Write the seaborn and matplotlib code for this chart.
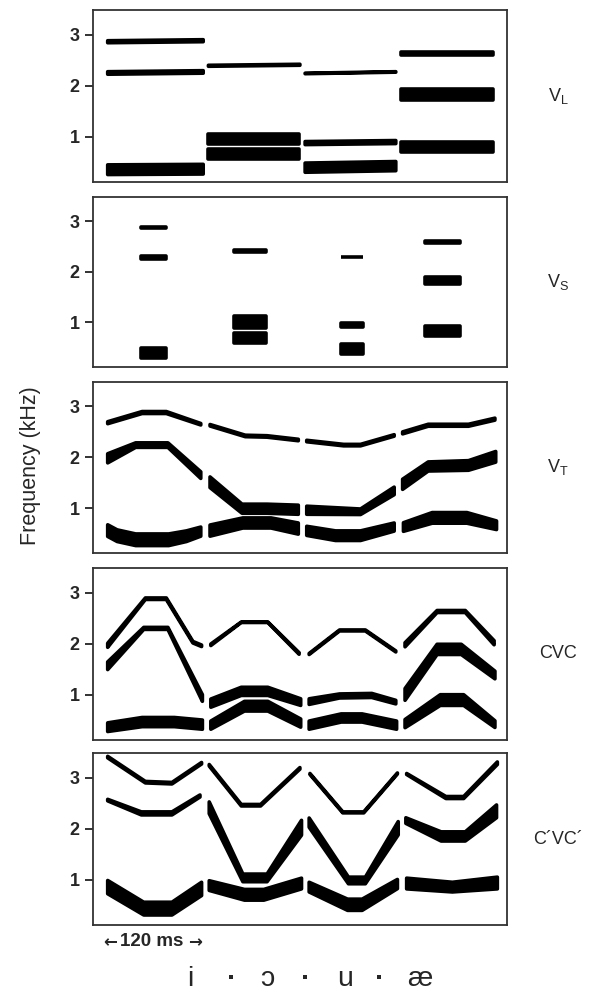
import numpy as np
import pandas as pd
import matplotlib
matplotlib.use("Agg")
import matplotlib.pyplot as plt
import seaborn as sns

# formant tracks: (times in ms, centre in kHz, band width in kHz), one per vowel i, ɔ, u, æ
VOWELS = ["i", "ɔ", "u", "æ"]
PANEL_LABELS = ["V$_\\mathregular{L}$", "V$_\\mathregular{S}$", "V$_\\mathregular{T}$", "CVC", "C\u00b4VC\u00b4"]

# long vowels
VL_F1 = [([0, 123], [0.37, 0.38], [0.26, 0.26]),
         ([125, 243], [0.66, 0.66], [0.27, 0.27]),
         ([245, 362], [0.41, 0.44], [0.25, 0.25]),
         ([364, 483], [0.80, 0.80], [0.27, 0.27])]
VL_F2 = [([0, 123], [2.26, 2.28], [0.12, 0.12]),
         ([125, 243], [0.96, 0.96], [0.26, 0.26]),
         ([245, 362], [0.89, 0.91], [0.13, 0.13]),
         ([364, 483], [1.83, 1.83], [0.28, 0.28])]
VL_F3 = [([0, 123], [2.87, 2.89], [0.11, 0.11]),
         ([125, 243], [2.40, 2.42], [0.09, 0.09]),
         ([245, 362], [2.25, 2.28], [0.08, 0.08]),
         ([364, 483], [2.63, 2.63], [0.14, 0.14])]

# short vowels
VS_F1 = [([42, 78], [0.40, 0.40], [0.27, 0.27]),
         ([157, 202], [0.70, 0.70], [0.27, 0.27]),
         ([290, 322], [0.475, 0.475], [0.27, 0.27]),
         ([395, 442], [0.83, 0.83], [0.26, 0.26])]
VS_F2 = [([42, 78], [2.28, 2.28], [0.12, 0.12]),
         ([157, 202], [1.01, 1.01], [0.29, 0.29]),
         ([290, 322], [0.95, 0.95], [0.14, 0.14]),
         ([395, 442], [1.83, 1.83], [0.22, 0.22])]
VS_F3 = [([42, 78], [2.88, 2.88], [0.10, 0.10]),
         ([157, 202], [2.41, 2.41], [0.10, 0.10]),
         ([290, 322], [2.29, 2.29], [0.08, 0.08]),
         ([395, 442], [2.59, 2.59], [0.11, 0.11])]

# trajectory vowels
VT_F1 = [([0, 14, 37, 78, 100, 120], [0.57, 0.47, 0.39, 0.39, 0.46, 0.55], [0.30, 0.30, 0.30, 0.30, 0.28, 0.25]),
         ([127, 170, 205, 241], [0.57, 0.72, 0.72, 0.61], [0.29, 0.27, 0.27, 0.29]),
         ([247, 285, 316, 360], [0.565, 0.47, 0.47, 0.64], [0.25, 0.26, 0.26, 0.23]),
         ([367, 405, 448, 487], [0.64, 0.82, 0.82, 0.675], [0.24, 0.28, 0.28, 0.24])]
VT_F2 = [([0, 37, 77, 120], [1.99, 2.25, 2.25, 1.66], [0.25, 0.16, 0.16, 0.20]),
         ([127, 169, 200, 241], [1.52, 1.00, 1.00, 0.98], [0.28, 0.25, 0.25, 0.25]),
         ([247, 316, 360], [0.97, 0.94, 1.35], [0.23, 0.18, 0.22]),
         ([366, 400, 450, 486], [1.48, 1.83, 1.85, 2.02], [0.27, 0.25, 0.26, 0.28])]
VT_F3 = [([0, 45, 75, 120], [2.69, 2.89, 2.89, 2.66], [0.11, 0.11, 0.11, 0.10]),
         ([127, 173, 200, 241], [2.64, 2.43, 2.42, 2.35], [0.10, 0.10, 0.10, 0.10]),
         ([247, 295, 316, 360], [2.33, 2.25, 2.25, 2.44], [0.10, 0.10, 0.10, 0.10]),
         ([366, 400, 450, 485], [2.49, 2.64, 2.64, 2.76], [0.11, 0.11, 0.11, 0.11])]

# CVC context
CVC_F1 = [([0, 45, 85, 122], [0.38, 0.48, 0.48, 0.43], [0.24, 0.25, 0.25, 0.25]),
          ([128, 172, 201, 244], [0.42, 0.79, 0.79, 0.46], [0.23, 0.26, 0.26, 0.23]),
          ([250, 292, 318, 363], [0.42, 0.56, 0.56, 0.42], [0.23, 0.23, 0.23, 0.23]),
          ([369, 415, 444, 485], [0.45, 0.91, 0.91, 0.44], [0.23, 0.28, 0.28, 0.20])]
CVC_F2 = [([0, 47, 77, 122], [1.58, 2.31, 2.31, 0.95], [0.22, 0.11, 0.11, 0.20]),
          ([128, 168, 201, 244], [0.85, 1.08, 1.08, 0.87], [0.23, 0.23, 0.23, 0.20]),
          ([250, 290, 330, 362], [0.88, 0.99, 1.00, 0.87], [0.18, 0.15, 0.15, 0.14]),
          ([369, 411, 441, 485], [1.02, 1.90, 1.90, 1.40], [0.30, 0.27, 0.27, 0.22])]
CVC_F3 = [([0, 49, 75, 108, 121], [1.98, 2.89, 2.89, 2.04, 1.97], [0.15, 0.10, 0.10, 0.10, 0.10]),
          ([128, 168, 201, 242], [1.99, 2.43, 2.43, 1.82], [0.10, 0.08, 0.08, 0.10]),
          ([250, 290, 322, 362], [1.81, 2.27, 2.27, 1.86], [0.09, 0.09, 0.09, 0.09]),
          ([369, 411, 446, 484], [1.99, 2.64, 2.64, 2.03], [0.15, 0.11, 0.11, 0.15])]

# C'VC' context
CPVC_F1 = [([0, 47, 82, 121], [0.87, 0.45, 0.45, 0.835], [0.33, 0.32, 0.32, 0.33]),
           ([126, 172, 196, 245], [0.90, 0.72, 0.72, 0.94], [0.26, 0.28, 0.28, 0.28]),
           ([250, 300, 318, 364], [0.87, 0.525, 0.525, 0.93], [0.26, 0.29, 0.29, 0.25]),
           ([371, 430, 488], [0.94, 0.87, 0.95], [0.28, 0.26, 0.30])]
CPVC_F2 = [([0, 44, 82, 119], [2.57, 2.31, 2.31, 2.65], [0.10, 0.13, 0.13, 0.11]),
           ([126, 170, 200, 245], [2.42, 1.05, 1.05, 2.03], [0.30, 0.22, 0.22, 0.36]),
           ([250, 301, 322, 365], [2.13, 1.00, 1.00, 2.02], [0.25, 0.20, 0.20, 0.33]),
           ([370, 416, 446, 487], [2.17, 1.86, 1.86, 2.35], [0.18, 0.25, 0.25, 0.32])]
CPVC_F3 = [([0, 49, 82, 121], [3.41, 2.92, 2.90, 3.29], [0.10, 0.10, 0.10, 0.10]),
           ([126, 168, 192, 243], [3.25, 2.47, 2.47, 3.19], [0.10, 0.10, 0.10, 0.10]),
           ([251, 294, 320, 364], [3.08, 2.33, 2.33, 3.09], [0.09, 0.09, 0.09, 0.09]),
           ([371, 422, 444, 488], [3.08, 2.62, 2.62, 3.29], [0.09, 0.11, 0.11, 0.12])]

PANELS = [
    (VL_F1, VL_F2, VL_F3),
    (VS_F1, VS_F2, VS_F3),
    (VT_F1, VT_F2, VT_F3),
    (CVC_F1, CVC_F2, CVC_F3),
    (CPVC_F1, CPVC_F2, CPVC_F3),
]


def to_frame(panels):
    """Flatten the track lists into one long table."""
    rows = []
    for p, formants in enumerate(panels):
        for k, tracks in enumerate(formants):
            for v, (ts, cs, ws) in enumerate(tracks):
                for t, c, w in zip(ts, cs, ws):
                    rows.append(dict(panel=p, formant=k + 1, vowel=VOWELS[v],
                                     t=t, c=c, w=w))
    return pd.DataFrame(rows)


sns.set_theme(style="ticks")
plt.rcParams["font.family"] = ["Liberation Sans", "DejaVu Sans"]

W, H = 590, 992
fig = plt.figure(figsize=(W / 100, H / 100), dpi=100)

df = to_frame(PANELS)

XLIM = (-15, 498)
YLIM = (0.12, 3.48)
# axes boxes in pixels (top, bottom)
boxes = [(10, 182), (197, 367), (382, 553), (568, 740), (753, 925)]
left_px, right_px = 93.3, 506.7

# rounded band ends: stroke the outline with a fat round-joined pen and pull
# the polygon in by half the pen so the outer edge stays on the data
PEN_PX = 3.6
px_per_ms = (right_px - left_px) / (XLIM[1] - XLIM[0])

for p, (top, bot) in enumerate(boxes):
    ax = fig.add_axes([left_px / W, 1 - bot / H, (right_px - left_px) / W, (bot - top) / H])
    px_per_khz = (bot - top) / (YLIM[1] - YLIM[0])
    dy = PEN_PX / 2 / px_per_khz
    dt = PEN_PX / 2 / px_per_ms
    sub = df[df.panel == p]
    for _, g in sub.groupby(["formant", "vowel"]):
        t = g.t.to_numpy(dtype=float)
        t[0] += dt
        t[-1] -= dt
        half = np.maximum(g.w.to_numpy() / 2 - dy, 0.002)
        ax.fill_between(t, g.c - half, g.c + half, facecolor="black", edgecolor="black",
                        linewidth=PEN_PX * 0.72, joinstyle="round")
    ax.set_xlim(*XLIM)
    ax.set_ylim(*YLIM)
    ax.set_xticks([])
    ax.set_yticks([1, 2, 3])
    ax.set_yticklabels(["1", "2", "3"], fontsize=13, fontweight="bold")
    ax.tick_params(axis="y", direction="out", length=6, width=1.3, pad=4, color="#222")
    for s in ax.spines.values():
        s.set_linewidth(1.3)
        s.set_color("#333")
        s.set_visible(True)
    fig.text(558 / W, 1 - (top + bot) / 2 / H, PANEL_LABELS[p],
             ha="center", va="center", fontsize=13)

fig.text(31 / W, 1 - 466 / H, "Frequency (kHz)", rotation=90,
         ha="center", va="center", fontsize=15.5)

# duration marker
fig.text(110.5 / W, 1 - 942 / H, "\u2190", ha="center", va="center",
         fontsize=12, fontweight="bold", family="DejaVu Sans")
fig.text(152 / W, 1 - 942 / H, "120 ms", ha="center", va="center",
         fontsize=13.5, fontweight="bold")
fig.text(194.5 / W, 1 - 942 / H, "\u2192", ha="center", va="center",
         fontsize=12, fontweight="bold", family="DejaVu Sans")

bottom_marks = ["i", "·", "ɔ", "·", "u", "·", "æ"]
mark_x = [190.5, 232, 267.5, 306, 345.5, 380, 419.5]
mark_weight = ["normal", "bold", "normal", "bold", "normal", "bold", "normal"]
for s, x, fw in zip(bottom_marks, mark_x, mark_weight):
    fig.text(x / W, 1 - 986 / H, s, ha="center", va="baseline", fontsize=20.5,
             fontweight=fw)

fig.savefig("out.png", dpi=100)
